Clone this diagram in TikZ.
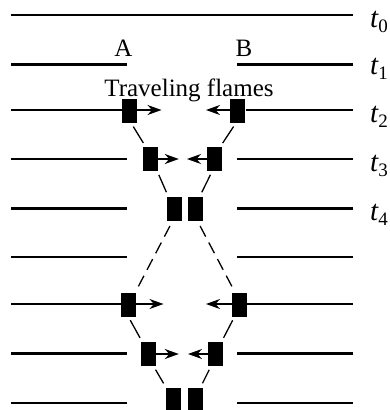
\documentclass[tikz,border=0pt]{standalone}
\usepackage{fontspec}
\setmainfont{Liberation Serif}
\usetikzlibrary{arrows.meta}

\begin{document}
\begin{tikzpicture}[x=1pt,y=-1pt,
  track/.style={line width=2.8pt},
  flame/.style={fill=black,inner sep=0pt,minimum width=15pt,minimum height=24pt},
  push/.style={line width=1.6pt,-{Stealth[length=14pt,width=10pt,inset=4.5pt]}},
  guide/.style={line width=1.3pt,shorten <=4pt,shorten >=4.5pt},
  longguide/.style={line width=1.3pt,shorten <=6pt,shorten >=6.5pt,dash pattern=on 12pt off 6.7pt},
  lbl/.style={font=\fontsize{25}{28}\selectfont,inner sep=0pt,anchor=base},
  tlab/.style={font=\fontsize{29}{32}\selectfont,inner sep=0pt,anchor=base west}]
\useasboundingbox (0,0) rectangle (390,410);

% ends of the horizontal tracks
\foreach \n/\y in {0/15,1/64.5,2/110,3/159,4/208.5,5/257,6/304,7/353.5,8/403}{
  \coordinate (w\n) at (11,\y);
  \coordinate (e\n) at (353,\y);
  \coordinate (wi\n) at (127,\y);
  \coordinate (ei\n) at (237,\y);
}

% flame fronts
\node[flame] (a2) at (129.2,111) {};
\node[flame] (b2) at (237.8,111) {};
\node[flame] (a3) at (150.2,159) {};
\node[flame] (b3) at (214.2,159) {};
\node[flame] (a4) at (174.2,208.5) {};
\node[flame] (b4) at (195.8,208.5) {};
\node[flame] (a6) at (128.3,304.5) {};
\node[flame] (b6) at (239.5,304.5) {};
\node[flame] (a7) at (148.7,354) {};
\node[flame] (b7) at (215.8,354) {};
\node[flame] (a8) at (173.4,399.5) {};
\node[flame] (b8) at (195,399.5) {};

% tracks
\draw[track] (w0) -- (e0);
\foreach \n in {1,3,4,5,7,8}{
  \draw[track] (w\n) -- (wi\n);
  \draw[track] (ei\n) -- (e\n);
}
\draw[track] (w2) -- (a2.west |- w2);
\draw[track] (b2.east |- e2) -- (e2);
\draw[track] (w6) -- (a6.west |- w6);
\draw[track] (b6.east |- e6) -- (e6);

% propagation arrows
\coordinate (pa2) at (161.5,110);
\coordinate (pb2) at (206,110);
\coordinate (pa3) at (178.8,159);
\coordinate (pb3) at (187,159);
\coordinate (pa6) at (163.5,304);
\coordinate (pb6) at (206,304);
\coordinate (pa7) at (178.8,354);
\coordinate (pb7) at (188,354);
\foreach \n in {2,3,6,7}{
  \draw[push] (a\n.east |- pa\n) -- (pa\n);
  \draw[push] (b\n.west |- pb\n) -- (pb\n);
}

% paths of the fronts
\draw[guide] ([xshift=2pt]a2.south) -- ([xshift=-4.5pt]a3.north);
\draw[guide] ([xshift=-2pt]b2.south) -- ([xshift=6pt]b3.north);
\draw[guide] ([xshift=7pt]a3.south) -- ([xshift=-6pt]a4.north);
\draw[guide] ([xshift=-2pt]b3.south) -- ([xshift=4pt]b4.north);
\draw[longguide] ([xshift=-1.5pt]a4.south) -- ([xshift=7pt]a6.north);
\draw[longguide] ([xshift=1.5pt]b4.south) -- ([xshift=-4.5pt]b6.north);
\draw[guide] (a6.south) -- ([xshift=-6.5pt]a7.north);
\draw[guide] ([xshift=-5pt]b6.south) -- ([xshift=5.7pt]b7.north);
\draw[guide] ([xshift=4.8pt]a7.south) -- ([xshift=-7.5pt]a8.north);
\draw[guide] ([xshift=-4.8pt]b7.south) -- ([xshift=5.5pt]b8.north);

% labels
\node[lbl] (la) at (123.5,56) {A};
\node[lbl] (lb) at (244,56) {B};
\node[lbl] (lt) at (189,96) {Traveling flames};
\foreach \n/\y in {0/27,1/74,2/122,3/171,4/220}{
  \node[tlab] (t\n) at (370,\y) {\itshape t\raisebox{-5pt}{\upshape\fontsize{19}{19}\selectfont \n}};
}
\end{tikzpicture}
\end{document}
